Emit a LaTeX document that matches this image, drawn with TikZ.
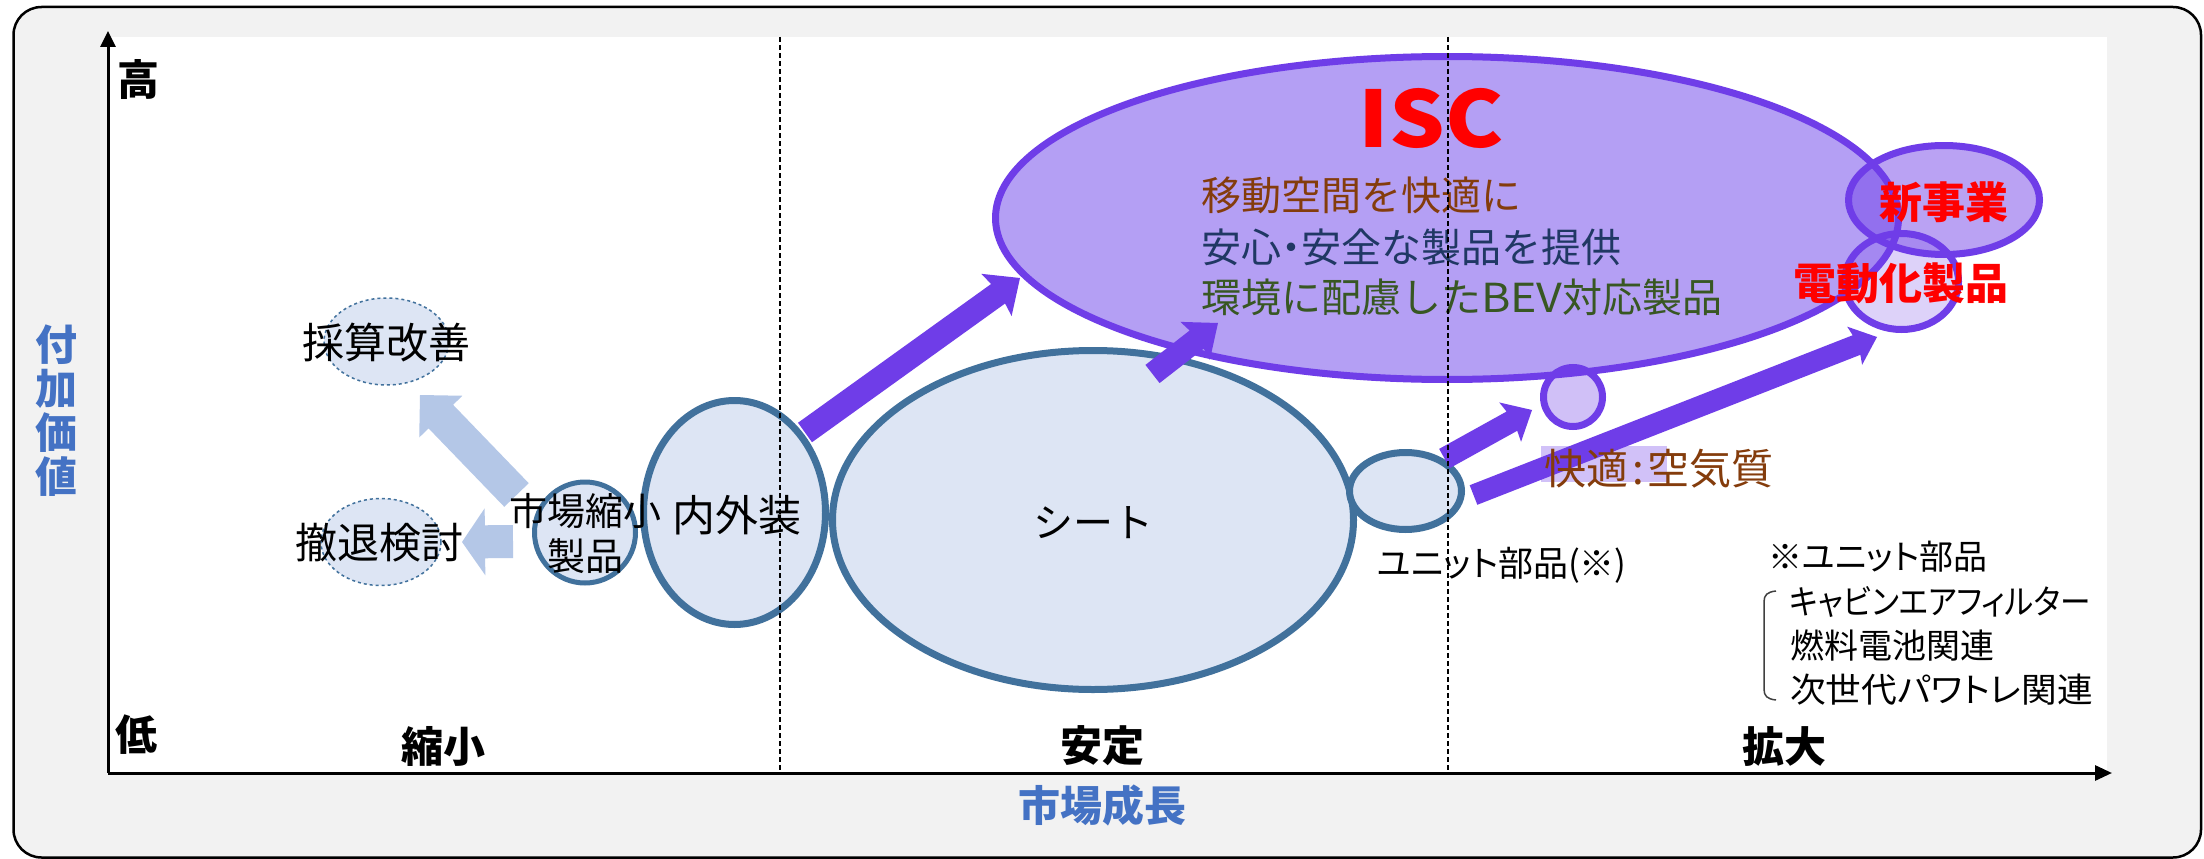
\documentclass[tikz,border=0pt]{standalone}
\usepackage{graphicx}
\usepackage{fontspec}
\setmainfont{Noto Sans CJK JP}
\newfontfamily\jpp[RawFeature=+palt]{Noto Sans CJK JP}
\usetikzlibrary{calc,arrows.meta,shapes.geometric}
\definecolor{bggrey}{RGB}{242,242,242}
\definecolor{steel}{RGB}{65,113,156}
\definecolor{lbfill}{RGB}{221,229,244}
\definecolor{lbarrow}{RGB}{180,199,231}
\definecolor{purp}{RGB}{111,61,232}
\definecolor{iscfill}{RGB}{180,159,244}
\definecolor{axisblue}{RGB}{68,114,196}
\definecolor{brownt}{RGB}{132,60,12}
\definecolor{navyt}{RGB}{32,56,100}
\definecolor{greent}{RGB}{56,87,35}
\newcommand\fs[1]{\fontsize{#1}{#1}\selectfont}
% block arrow: #1 colour, #2 from, #3 to, #4 shaft half width, #5 head half width, #6 head length, #7 sweep
\newcommand\blockarrow[7]{%
  \coordinate (#2-#3-h) at ($(#3)!#6!(#2)$);
  \coordinate (#2-#3-b) at ($(#3)!#6+#7!(#2)$);
  \fill[#1] ($(#2)!#4!90:(#3)$) -- ($(#2-#3-h)!#4!90:(#3)$) -- ($(#2-#3-b)!#5!90:(#3)$) -- (#3)
    -- ($(#2-#3-b)!#5!-90:(#3)$) -- ($(#2-#3-h)!#4!-90:(#3)$) -- ($(#2)!#4!-90:(#3)$) -- cycle;
}
\tikzset{
  lbl/.style={inner sep=0pt, outer sep=0pt},
  bub/.style={ellipse, inner sep=0pt, draw=steel, line width=7pt, fill=lbfill},
  dbub/.style={ellipse, inner sep=0pt, draw=steel, dashed, line width=1.5pt, fill=lbfill},
  pbub/.style={ellipse, inner sep=0pt, draw=purp, line width=7pt},
  axislbl/.style={lbl, font={\fs{42}\bfseries}},
  bodytxt/.style={lbl, font={\fs{40}}},
  redtxt/.style={lbl, font={\fs{43}\bfseries}, text=red},
  notetxt/.style={lbl, anchor=west, font={\jpp\fs{34}}},
  vdash/.style={line width=1.6pt, dash pattern=on 5pt off 3pt},
}
\begin{document}
\begin{tikzpicture}[x=1pt,y=-1pt]
\useasboundingbox (0,0) rectangle (2204,859);
% frame and plot area
\draw[line width=2.5pt, fill=bggrey, rounded corners=28pt] (13.5,7) rectangle (2201,857.5);
\fill[white] (110,37) rectangle (2107,773);

% coordinates
\coordinate (o) at (108,773);
\coordinate (ytop) at (108,31);
\coordinate (xend) at (2112,773);
\coordinate (d1t) at (780,37);
\coordinate (d1b) at (780,773);
\coordinate (d2t) at (1448,37);
\coordinate (d2b) at (1448,773);

% shrinking side
\node[dbub, minimum width=125pt, minimum height=87pt] (saisan) at (386.5,341.5) {};
\node[dbub, minimum width=120pt, minimum height=87pt] (tettai) at (381,542) {};
\node[bub, line width=5pt, minimum width=101pt, minimum height=101pt] (shijou) at (585,532.5) {};
\node[bub, minimum width=182pt, minimum height=224pt] (naigai) at (734.5,512.5) {};

\coordinate (b1s) at (516.5,495);
\coordinate (b1e) at (420,395);
\coordinate (b2s) at (513,541.5);
\coordinate (b2e) at (462,542);
\blockarrow{lbarrow}{b1s}{b1e}{17pt}{30pt}{30pt}{0pt}
\blockarrow{lbarrow}{b2s}{b2e}{16.5pt}{33.5pt}{23pt}{0pt}

% stable side
\node[bub, minimum width=521pt, minimum height=339pt] (seat) at (1093,520) {};
\node[bub, minimum width=112pt, minimum height=77pt] (unit) at (1405.5,491) {};

% ISC and new fields
\node[pbub, fill=iscfill, minimum width=903pt, minimum height=323pt] (isc) at (1447,218) {};
\node[pbub, fill=purp, fill opacity=0.48, minimum width=191pt, minimum height=109pt] (shin) at (1944,200) {};
\node[pbub, fill=purp, fill opacity=0.23, minimum width=114pt, minimum height=96pt] (den) at (1901.5,281.5) {};
\node[pbub, fill=purp, fill opacity=0.32, minimum width=59pt, minimum height=59pt] (air) at (1573,397) {};

% purple arrows
\fill[purp!32] (1541,446) rectangle (1667,482);
\coordinate (a1s) at (805,432.5);
\coordinate (a1e) at (1020,278);
\coordinate (a2s) at (1152.5,374);
\coordinate (a2e) at (1218,323);
\coordinate (a3s) at (1444.5,458.5);
\coordinate (a3e) at (1532,410);
\coordinate (a4s) at (1473.5,495);
\coordinate (a4e) at (1877,337);
\blockarrow{purp}{a1s}{a1e}{12pt}{26pt}{27pt}{2pt}
\blockarrow{purp}{a2s}{a2e}{11.5pt}{24pt}{27pt}{2pt}
\blockarrow{purp}{a3s}{a3e}{11pt}{22.5pt}{23pt}{2pt}
\blockarrow{purp}{a4s}{a4e}{10.5pt}{20.5pt}{22pt}{2pt}

% axes
\draw[line width=3pt, -{Triangle[length=16pt,width=15pt]}] (o) -- (ytop);
\draw[line width=3pt, -{Triangle[length=17pt,width=15pt]}] (o) -- (xend);

% texts
\node[axislbl] (hi) at (138,80) {高};
\node[axislbl] (lo) at (136,735) {低};
\node[axislbl] (shrink) at (443,746) {縮小};
\node[axislbl] (stable) at (1102,746) {安定};
\node[axislbl] (expand) at (1784,746) {拡大};
\node[lbl, font={\fontsize{42}{44}\selectfont\bfseries}, text=axisblue, align=center] (ylab) at (56,411) {付\\加\\価\\値};
\node[axislbl, text=axisblue] (xlab) at (1102,805) {市場成長};

\node[lbl, font={\fs{42}}] (tsaisan) at (386.5,343) {採算改善};
\node[lbl, font={\fs{42}}] (ttettai) at (379,543) {撤退検討};
\node[lbl, font={\fs{38}}] (tshijou1) at (585,511) {市場縮小};
\node[lbl, font={\fs{38}}] (tshijou2) at (585,556) {製品};
\node[lbl, font={\fs{43}}] (tnaigai) at (737,515) {内外装};
\node[bodytxt] (tseat) at (1093,523) {シート};
\node[lbl, font={\jpp\fs{35}}] (tunit) at (1502,565) {ユニット部品(※)};

\node[lbl, font={\fs{78}\bfseries}, text=red] (tisc) at (1431,118) {\scalebox{1.12}[1]{ISC}};
\node[bodytxt, anchor=west, text=brownt] (isc1) at (1201,195) {移動空間を快適に};
\node[bodytxt, anchor=west, text=navyt] (isc2) at (1201,247) {安心{\jpp ・}安全な製品を提供};
\node[bodytxt, anchor=west, text=greent] (isc3) at (1201,297) {環境に配慮した\scalebox{1.12}[1]{BEV}対応製品};

\node[redtxt] (tshin) at (1944,202) {新事業};
\node[redtxt] (tden) at (1901,283) {電動化製品};
\node[lbl, font={\fs{42}}, text=brownt] (tair) at (1659,469) {快適\kern4pt:\kern4pt 空気質};

\node[notetxt] (n0) at (1768,557) {※ユニット部品};
\node[notetxt] (n1) at (1790,602) {\scalebox{0.9}[1]{キャビンエアフィルター}};
\node[notetxt] (n2) at (1790,646) {燃料電池関連};
\node[notetxt] (n3) at (1790,690) {\scalebox{1.05}[1]{次世代パワトレ関連}};
\draw[line width=1.5pt, black!75] (1776,591) .. controls (1767,592) and (1764,595) .. (1764,602) -- (1764,689) .. controls (1764,696) and (1767,699) .. (1776,700);

% dashed separators
\draw[vdash] (d1t) -- (d1b);
\draw[vdash] (d2t) -- (d2b);
\end{tikzpicture}
\end{document}
